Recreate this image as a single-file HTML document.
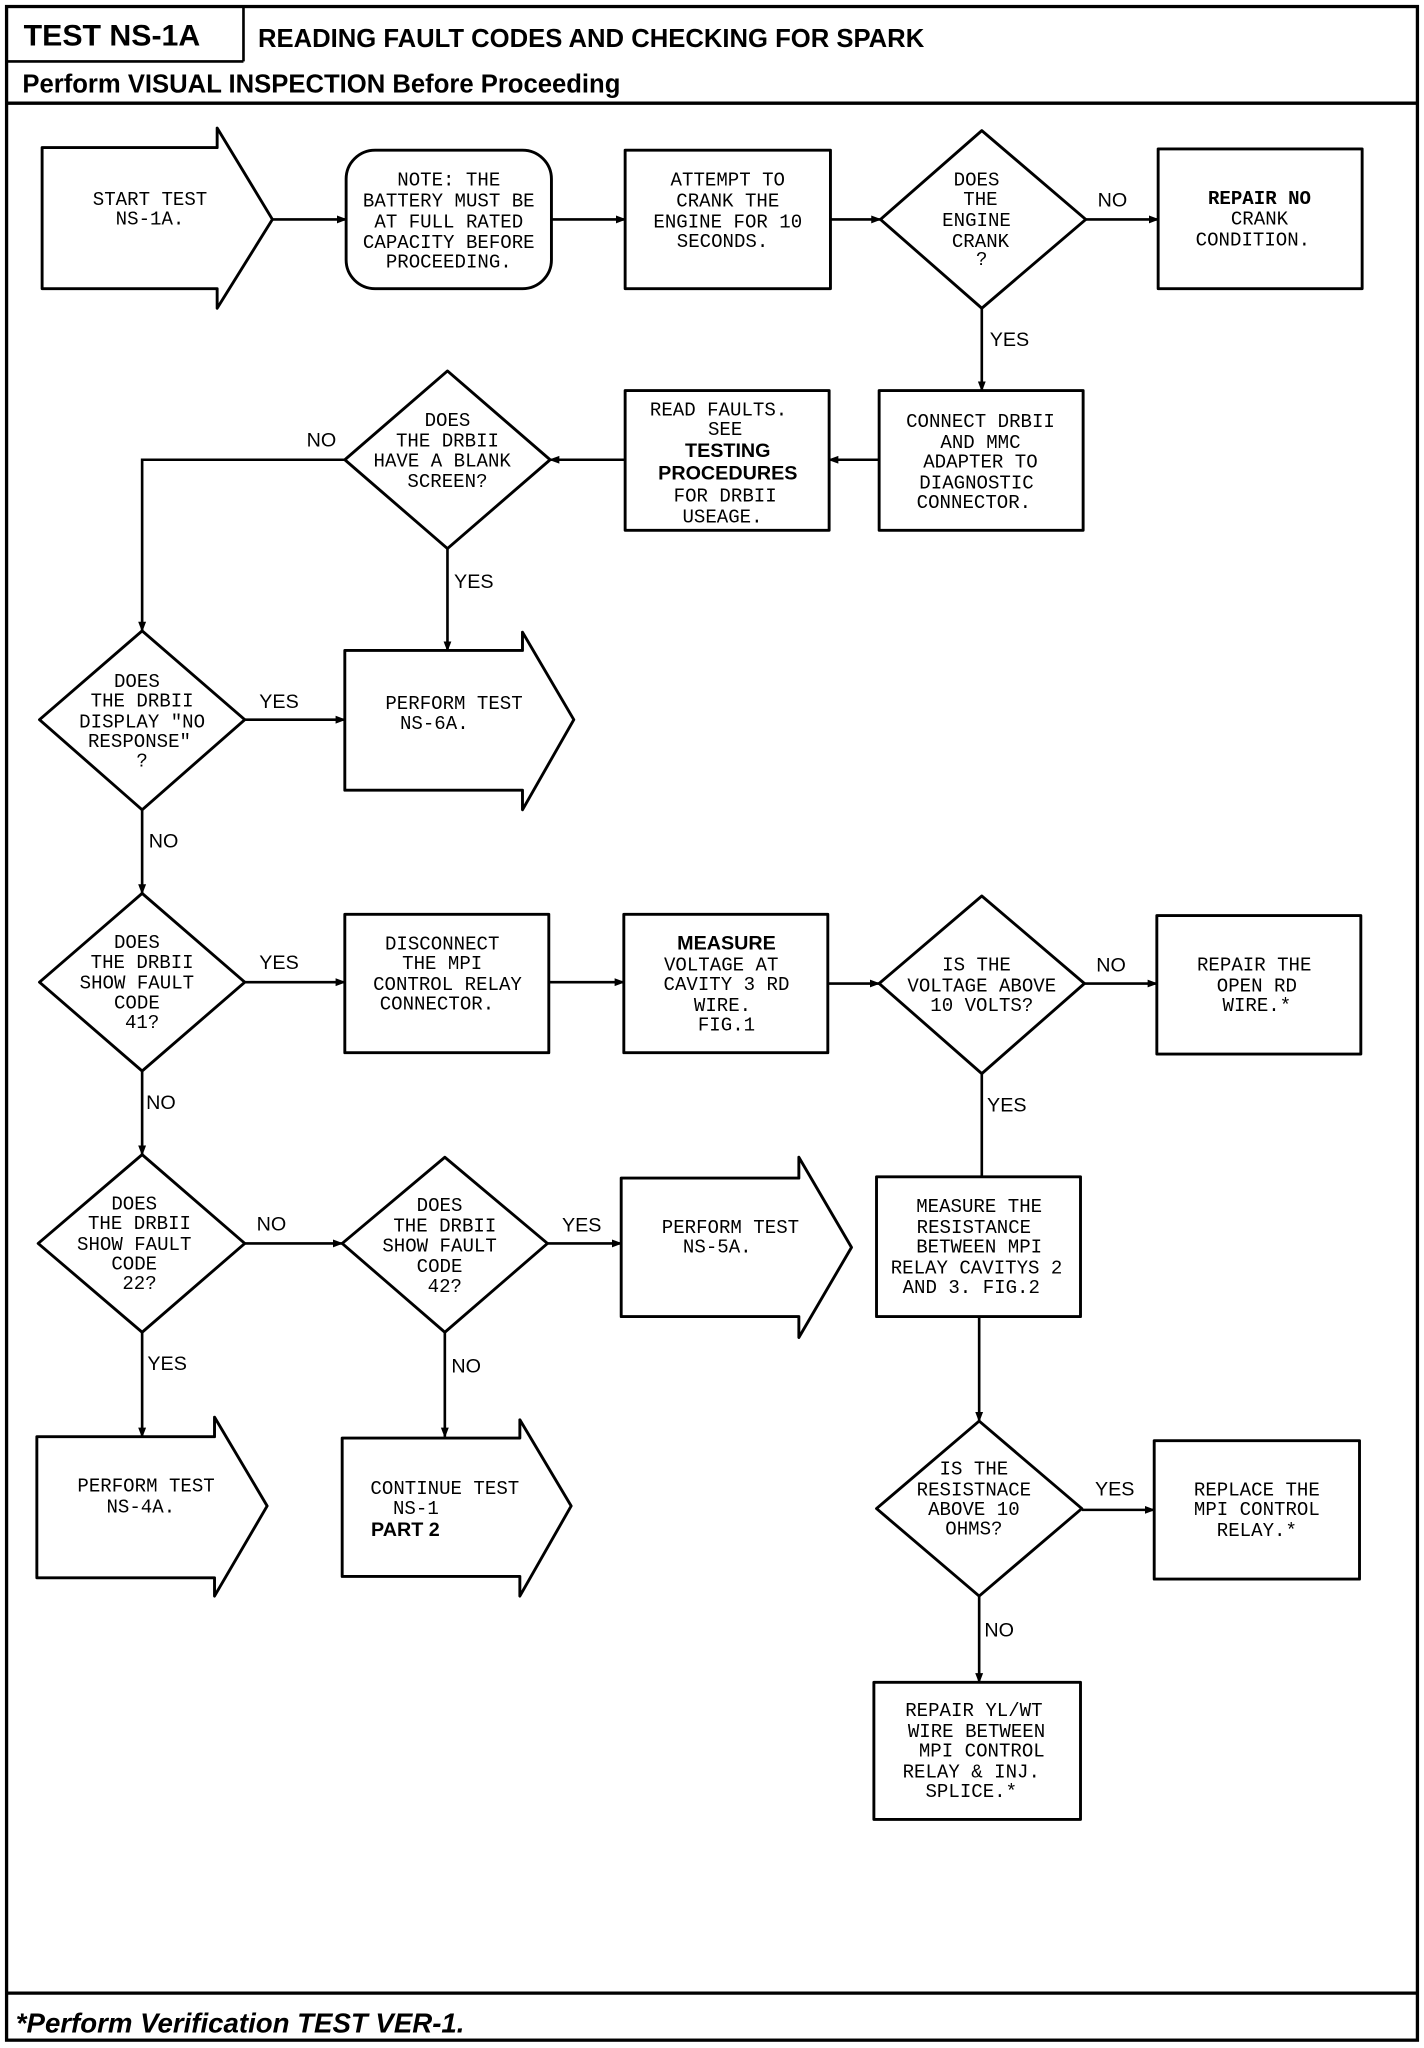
<!DOCTYPE html>
<html><head><meta charset="utf-8"><style>
html,body{margin:0;padding:0;background:#fff;}
svg{display:block;}
.t{font-family:"Liberation Mono",monospace;font-size:14.5px;fill:#000;text-anchor:middle;}
.b{font-family:"Liberation Sans",sans-serif;font-weight:bold;font-size:15px;fill:#000;text-anchor:middle;}
.l{font-family:"Liberation Sans",sans-serif;font-size:15px;fill:#000;}
.s{fill:#fff;stroke:#000;stroke-width:2.2;stroke-linejoin:round;}
.c{fill:none;stroke:#000;stroke-width:2;}
</style></head><body>
<svg width="1424" height="2048" viewBox="0 0 1082 1568" preserveAspectRatio="none" xmlns="http://www.w3.org/2000/svg">
<defs><marker id="a" markerWidth="8" markerHeight="8" refX="7" refY="4" orient="auto" markerUnits="userSpaceOnUse"><path d="M0,1 L8,4 L0,7 Z" fill="#000"/></marker></defs>
<!-- frame -->
<rect x="5" y="5" width="1072" height="1557" fill="none" stroke="#000" stroke-width="2.5"/>
<line x1="185" y1="5" x2="185" y2="47" stroke="#000" stroke-width="2"/>
<line x1="5" y1="47" x2="185" y2="47" stroke="#000" stroke-width="2"/>
<line x1="5" y1="79" x2="1077" y2="79" stroke="#000" stroke-width="2.5"/>
<line x1="5" y1="1526" x2="1077" y2="1526" stroke="#000" stroke-width="2.5"/>
<text x="18" y="35" style="font-family:'Liberation Sans',sans-serif;font-weight:bold;font-size:23px">TEST NS-1A</text>
<text x="196" y="36" style="font-family:'Liberation Sans',sans-serif;font-weight:bold;font-size:19.5px">READING FAULT CODES AND CHECKING FOR SPARK</text>
<text x="17" y="71" style="font-family:'Liberation Sans',sans-serif;font-weight:bold;font-size:19.5px">Perform VISUAL INSPECTION Before Proceeding</text>
<text x="12" y="1556" style="font-family:'Liberation Sans',sans-serif;font-weight:bold;font-style:italic;font-size:21px">*Perform Verification TEST VER-1.</text>

<!-- connectors -->
<line class="c" x1="207" y1="168" x2="263" y2="168" marker-end="url(#a)"/>
<line class="c" x1="419" y1="168" x2="475" y2="168" marker-end="url(#a)"/>
<line class="c" x1="631" y1="168" x2="669" y2="168" marker-end="url(#a)"/>
<line class="c" x1="825" y1="168" x2="880" y2="168" marker-end="url(#a)"/>
<line class="c" x1="746" y1="236" x2="746" y2="299" marker-end="url(#a)"/>
<line class="c" x1="668" y1="352" x2="630" y2="352" marker-end="url(#a)"/>
<line class="c" x1="475" y1="352" x2="418" y2="352" marker-end="url(#a)"/>
<polyline class="c" points="262,352 108,352 108,483" marker-end="url(#a)"/>
<line class="c" x1="340" y1="420" x2="340" y2="498" marker-end="url(#a)"/>
<line class="c" x1="186" y1="551" x2="262" y2="551" marker-end="url(#a)"/>
<line class="c" x1="108" y1="620" x2="108" y2="684" marker-end="url(#a)"/>
<line class="c" x1="186" y1="752" x2="262" y2="752" marker-end="url(#a)"/>
<line class="c" x1="417" y1="752" x2="474" y2="752" marker-end="url(#a)"/>
<line class="c" x1="629" y1="753" x2="668" y2="753" marker-end="url(#a)"/>
<line class="c" x1="824" y1="753" x2="879" y2="753" marker-end="url(#a)"/>
<line class="c" x1="746" y1="822" x2="746" y2="901"/>
<line class="c" x1="108" y1="820" x2="108" y2="884" marker-end="url(#a)"/>
<line class="c" x1="186" y1="952" x2="260" y2="952" marker-end="url(#a)"/>
<line class="c" x1="416" y1="952" x2="472" y2="952" marker-end="url(#a)"/>
<line class="c" x1="744" y1="1008" x2="744" y2="1088" marker-end="url(#a)"/>
<line class="c" x1="822" y1="1156" x2="877" y2="1156" marker-end="url(#a)"/>
<line class="c" x1="744" y1="1222" x2="744" y2="1288" marker-end="url(#a)"/>
<line class="c" x1="108" y1="1020" x2="108" y2="1100" marker-end="url(#a)"/>
<line class="c" x1="338" y1="1020" x2="338" y2="1100" marker-end="url(#a)"/>

<!-- labels -->
<text class="l" x="834" y="158">NO</text>
<text class="l" x="752" y="265">YES</text>
<text class="l" x="233" y="342">NO</text>
<text class="l" x="345" y="450">YES</text>
<text class="l" x="197" y="542">YES</text>
<text class="l" x="113" y="649">NO</text>
<text class="l" x="197" y="742">YES</text>
<text class="l" x="833" y="744">NO</text>
<text class="l" x="750" y="851">YES</text>
<text class="l" x="111" y="849">NO</text>
<text class="l" x="195" y="942">NO</text>
<text class="l" x="427" y="943">YES</text>
<text class="l" x="832" y="1145">YES</text>
<text class="l" x="748" y="1253">NO</text>
<text class="l" x="112" y="1049">YES</text>
<text class="l" x="343" y="1051">NO</text>

<!-- shapes -->
<path class="s" d="M32,113 H165 V98 L207,168 L165,236 V221 H32 Z"/>
<rect class="s" x="263" y="115" width="156" height="106" rx="22"/>
<rect class="s" x="475" y="115" width="156" height="106"/>
<path class="s" d="M746,100 L825,168 L746,236 L669,168 Z"/>
<rect class="s" x="880" y="114" width="155" height="107"/>
<rect class="s" x="668" y="299" width="155" height="107"/>
<rect class="s" x="475" y="299" width="155" height="107"/>
<path class="s" d="M340,284 L418,352 L340,420 L262,352 Z"/>
<path class="s" d="M108,483 L186,551 L108,620 L30,551 Z"/>
<path class="s" d="M262,498 H397 V484 L436,551 L397,620 V605 H262 Z"/>
<path class="s" d="M108,684 L186,752 L108,820 L30,752 Z"/>
<rect class="s" x="262" y="700" width="155" height="106"/>
<rect class="s" x="474" y="700" width="155" height="106"/>
<path class="s" d="M746,686 L824,753 L746,822 L668,753 Z"/>
<rect class="s" x="879" y="701" width="155" height="106"/>
<path class="s" d="M108,884 L186,952 L108,1020 L29,952 Z"/>
<path class="s" d="M338,886 L416,952 L338,1020 L260,952 Z"/>
<path class="s" d="M472,902 H607 V886 L647,955 L607,1024 V1008 H472 Z"/>
<rect class="s" x="666" y="901" width="155" height="107"/>
<path class="s" d="M744,1088 L822,1155 L744,1222 L666,1155 Z"/>
<rect class="s" x="877" y="1103" width="156" height="106"/>
<rect class="s" x="664" y="1288" width="157" height="105"/>
<path class="s" d="M28,1100 H163 V1085 L203,1153 L163,1222 V1208 H28 Z"/>
<path class="s" d="M260,1101 H395 V1087 L434,1153 L395,1222 V1207 H260 Z"/>

<!-- texts -->
<text class="t" x="114" y="157">START TEST</text><text class="t" x="114" y="172">NS-1A.</text>
<text class="t" x="341" y="142">NOTE: THE</text><text class="t" x="341" y="158">BATTERY MUST BE</text><text class="t" x="341" y="174">AT FULL RATED</text><text class="t" x="341" y="190">CAPACITY BEFORE</text><text class="t" x="341" y="205">PROCEEDING.</text>
<text class="t" x="553" y="142">ATTEMPT TO</text><text class="t" x="553" y="158">CRANK THE</text><text class="t" x="553" y="174">ENGINE FOR 10</text><text class="t" x="549" y="189">SECONDS.</text>
<text class="t" x="742" y="142">DOES</text><text class="t" x="745" y="157">THE</text><text class="t" x="742" y="173">ENGINE</text><text class="t" x="745" y="189">CRANK</text><text class="t" x="746" y="203">?</text>
<text class="t" x="957" y="156" font-weight="bold">REPAIR NO</text><text class="t" x="957" y="172">CRANK</text><text class="t" x="952" y="188">CONDITION.</text>
<text class="t" x="745" y="327">CONNECT DRBII</text><text class="t" x="745" y="343">AND MMC</text><text class="t" x="745" y="358">ADAPTER TO</text><text class="t" x="742" y="374">DIAGNOSTIC</text><text class="t" x="740" y="389">CONNECTOR.</text>
<text class="t" x="546" y="318">READ FAULTS.</text><text class="t" x="551" y="333">SEE</text><text class="b" x="553" y="350">TESTING</text><text class="b" x="553" y="367">PROCEDURES</text><text class="t" x="551" y="384">FOR DRBII</text><text class="t" x="549" y="400">USEAGE.</text>
<text class="t" x="340" y="326">DOES</text><text class="t" x="340" y="342">THE DRBII</text><text class="t" x="336" y="357">HAVE A BLANK</text><text class="t" x="340" y="373">SCREEN?</text>
<text class="t" x="104" y="526">DOES</text><text class="t" x="108" y="541">THE DRBII</text><text class="t" x="108" y="557">DISPLAY "NO</text><text class="t" x="106" y="572">RESPONSE"</text><text class="t" x="108" y="587">?</text>
<text class="t" x="345" y="543">PERFORM TEST</text><text class="t" x="330" y="558">NS-6A.</text>
<text class="t" x="104" y="726">DOES</text><text class="t" x="108" y="741">THE DRBII</text><text class="t" x="104" y="757">SHOW FAULT</text><text class="t" x="104" y="772">CODE</text><text class="t" x="108" y="787">41?</text>
<text class="t" x="336" y="727">DISCONNECT</text><text class="t" x="336" y="742">THE MPI</text><text class="t" x="340" y="758">CONTROL RELAY</text><text class="t" x="332" y="773">CONNECTOR.</text>
<text class="b" x="552" y="727">MEASURE</text><text class="t" x="548" y="743">VOLTAGE AT</text><text class="t" x="552" y="758">CAVITY 3 RD</text><text class="t" x="549" y="774">WIRE.</text><text class="t" x="552" y="789">FIG.1</text>
<text class="t" x="742" y="743">IS THE</text><text class="t" x="746" y="759">VOLTAGE ABOVE</text><text class="t" x="746" y="774">10 VOLTS?</text>
<text class="t" x="953" y="743">REPAIR THE</text><text class="t" x="955" y="759">OPEN RD</text><text class="t" x="955" y="774">WIRE.*</text>
<text class="t" x="102" y="926">DOES</text><text class="t" x="106" y="941">THE DRBII</text><text class="t" x="102" y="957">SHOW FAULT</text><text class="t" x="102" y="972">CODE</text><text class="t" x="106" y="987">22?</text>
<text class="t" x="334" y="927">DOES</text><text class="t" x="338" y="943">THE DRBII</text><text class="t" x="334" y="958">SHOW FAULT</text><text class="t" x="334" y="974">CODE</text><text class="t" x="338" y="989">42?</text>
<text class="t" x="555" y="944">PERFORM TEST</text><text class="t" x="545" y="959">NS-5A.</text>
<text class="t" x="744" y="928">MEASURE THE</text><text class="t" x="740" y="944">RESISTANCE</text><text class="t" x="744" y="959">BETWEEN MPI</text><text class="t" x="742" y="975">RELAY CAVITYS 2</text><text class="t" x="738" y="990">AND 3. FIG.2</text>
<text class="t" x="740" y="1129">IS THE</text><text class="t" x="740" y="1145">RESISTNACE</text><text class="t" x="740" y="1160">ABOVE 10</text><text class="t" x="740" y="1175">OHMS?</text>
<text class="t" x="955" y="1145">REPLACE THE</text><text class="t" x="955" y="1160">MPI CONTROL</text><text class="t" x="955" y="1176">RELAY.*</text>
<text class="t" x="740" y="1314">REPAIR YL/WT</text><text class="t" x="742" y="1330">WIRE BETWEEN</text><text class="t" x="746" y="1345">MPI CONTROL</text><text class="t" x="738" y="1361">RELAY &amp; INJ.</text><text class="t" x="738" y="1376">SPLICE.*</text>
<text class="t" x="111" y="1142">PERFORM TEST</text><text class="t" x="107" y="1158">NS-4A.</text>
<text class="t" x="338" y="1144">CONTINUE TEST</text><text class="t" x="316" y="1159">NS-1</text><text class="b" x="308" y="1176">PART 2</text>
</svg>
</body></html>
